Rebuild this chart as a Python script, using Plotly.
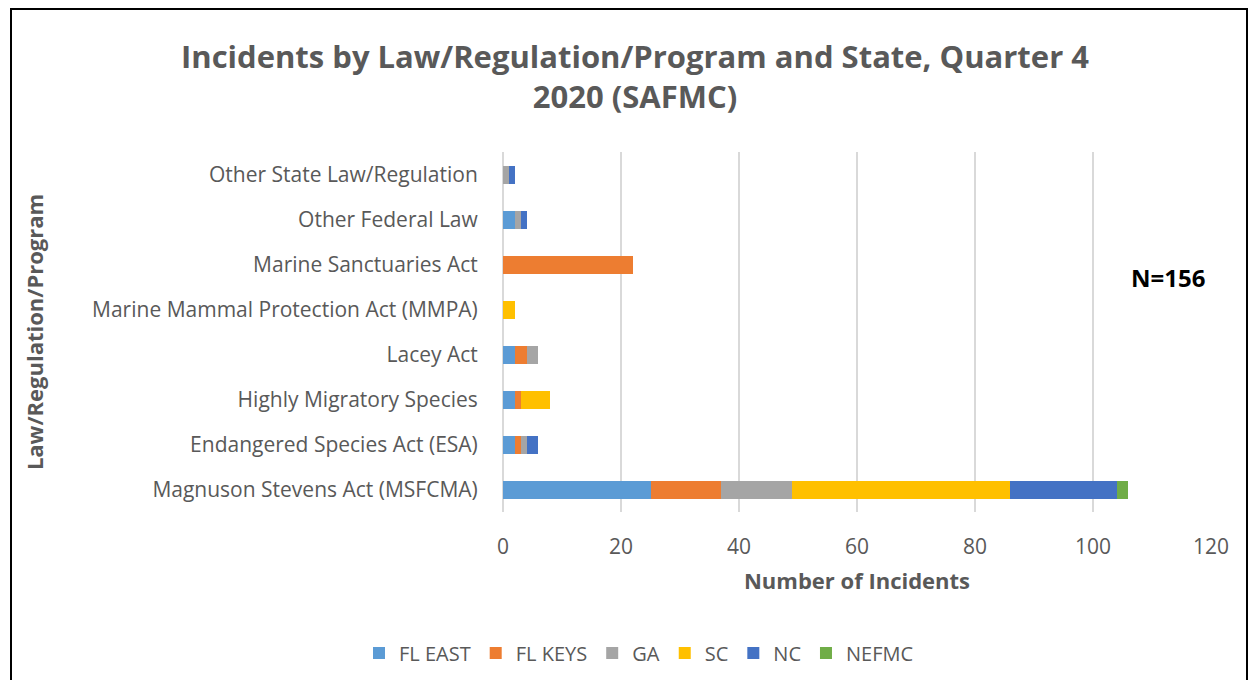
import plotly.graph_objects as go

categories = [
    "Magnuson Stevens Act (MSFCMA)",
    "Endangered Species Act (ESA)",
    "Highly Migratory Species",
    "Lacey Act",
    "Marine Mammal Protection Act (MMPA)",
    "Marine Sanctuaries Act",
    "Other Federal Law",
    "Other State Law/Regulation",
]
fl_east = [25, 2, 2, 2, 0, 0, 2, 0]
fl_keys = [12, 1, 1, 2, 0, 22, 0, 0]
ga = [12, 1, 0, 2, 0, 0, 1, 1]
sc = [37, 0, 5, 0, 2, 0, 0, 0]
nc = [18, 2, 0, 0, 0, 0, 1, 1]
nefmc = [2, 0, 0, 0, 0, 0, 0, 0]

series = [
    ("FL EAST", fl_east, "#5B9BD5"),
    ("FL KEYS", fl_keys, "#ED7D31"),
    ("GA", ga, "#A5A5A5"),
    ("SC", sc, "#FFC000"),
    ("NC", nc, "#4472C4"),
    ("NEFMC", nefmc, "#70AD47"),
]

FONT = "Open Sans"
GRAY = "#595959"

W, H = 1240, 672
L, R, T, B = 495, 37, 144, 168
PW, PH = W - L - R, H - T - B


def px(x):
    return (x - L) / PW


def py(y):
    return (H - B - y) / PH


fig = go.Figure()
for name, vals, color in series:
    fig.add_trace(go.Bar(
        y=categories, x=vals, name=name, orientation="h",
        marker=dict(color=color, line=dict(width=0)),
    ))

fig.update_layout(
    barmode="stack",
    bargap=0.6,
    width=W, height=H,
    margin=dict(l=L, r=R, t=T, b=B),
    paper_bgcolor="white", plot_bgcolor="white",
    font=dict(family=FONT, color=GRAY, size=20),
    title=dict(
        text="<b>Incidents by Law/Regulation/Program and State, Quarter 4<br>2020 (SAFMC)</b>",
        x=627 / W, xanchor="center", y=1 - 60 / H, yanchor="middle",
        font=dict(family=FONT, size=31, color=GRAY),
    ),
    xaxis=dict(
        range=[0, 120], dtick=20, showgrid=True, gridcolor="#D9D9D9", gridwidth=2,
        zeroline=True, zerolinecolor="#D9D9D9", zerolinewidth=2,
        tickfont=dict(size=21, color=GRAY), ticks="outside", ticklen=16, tickcolor="white",
        title=dict(text="<b>Number of Incidents</b>", font=dict(size=22, color=GRAY), standoff=14),
    ),
    yaxis=dict(
        tickfont=dict(size=21, color=GRAY), ticks="outside", ticklen=20, tickcolor="white",
        showgrid=False,
        title=dict(text="<b>Law/Regulation/Program</b>", font=dict(size=22, color=GRAY), standoff=42),
    ),
    legend=dict(
        orientation="h", xref="container", yref="container",
        x=631 / W, xanchor="center", y=1 - 645 / H, yanchor="middle",
        font=dict(size=20, color=GRAY), traceorder="normal", itemwidth=30,
    ),
    annotations=[dict(
        text="<b>N=156</b>", x=px(1160), y=py(269), xref="paper", yref="paper",
        xanchor="center", yanchor="middle",
        showarrow=False, font=dict(size=24, color="black", family=FONT),
    )],
    shapes=[dict(
        type="rect", xref="paper", yref="paper",
        x0=px(3), x1=px(W - 1), y0=-1, y1=py(1),
        line=dict(color="black", width=2), fillcolor="rgba(0,0,0,0)", layer="below",
    )],
)
fig.write_html("out.html")
